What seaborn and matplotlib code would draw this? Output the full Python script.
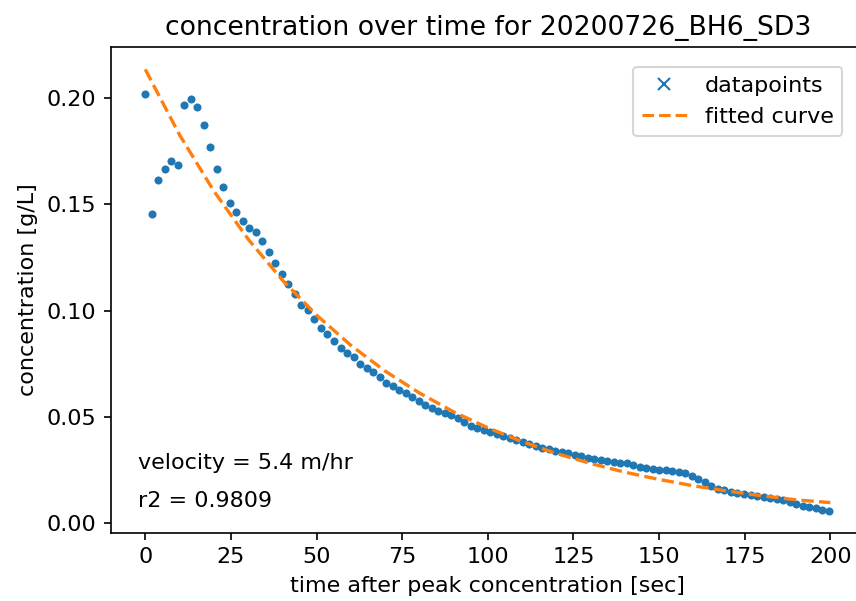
import numpy as np
import pandas as pd
import seaborn as sns
import matplotlib.pyplot as plt
from matplotlib.lines import Line2D

#data
time_sec = [0.0, 1.9, 3.8, 5.7, 7.6, 9.5, 11.4, 13.3, 15.2, 17.1,
            19.0, 20.9, 22.8, 24.7, 26.6, 28.5, 30.4, 32.3, 34.2, 36.1,
            38.0, 39.9, 41.8, 43.7, 45.6, 47.5, 49.4, 51.3, 53.2, 55.1,
            57.0, 58.9, 60.8, 62.7, 64.6, 66.5, 68.4, 70.3, 72.2, 74.1,
            76.0, 77.9, 79.8, 81.7, 83.6, 85.5, 87.4, 89.3, 91.2, 93.1,
            95.0, 96.9, 98.8, 100.7, 102.6, 104.5, 106.4, 108.3, 110.2, 112.1,
            114.0, 115.9, 117.8, 119.7, 121.6, 123.5, 125.4, 127.3, 129.2, 131.1,
            133.0, 134.9, 136.8, 138.7, 140.6, 142.5, 144.4, 146.3, 148.2, 150.1,
            152.0, 153.9, 155.8, 157.7, 159.6, 161.5, 163.4, 165.3, 167.2, 169.1,
            171.0, 172.9, 174.8, 176.7, 178.6, 180.5, 182.4, 184.3, 186.2, 188.1,
            190.0, 191.9, 193.8, 195.7, 197.6, 199.5]

concentration = [0.2021, 0.1453, 0.1613, 0.1665, 0.1703, 0.1684, 0.1969, 0.1994, 0.1958, 0.1875,
                 0.1768, 0.1665, 0.1580, 0.1507, 0.1464, 0.1422, 0.1391, 0.1372, 0.1328, 0.1276,
                 0.1222, 0.1172, 0.1123, 0.1078, 0.1026, 0.1002, 0.0959, 0.0919, 0.0888, 0.0858,
                 0.0822, 0.0802, 0.0780, 0.0749, 0.0731, 0.0710, 0.0689, 0.0658, 0.0645, 0.0626,
                 0.0611, 0.0595, 0.0576, 0.0556, 0.0540, 0.0528, 0.0517, 0.0507, 0.0496, 0.0478,
                 0.0456, 0.0447, 0.0438, 0.0428, 0.0418, 0.0410, 0.0402, 0.0393, 0.0382, 0.0372,
                 0.0364, 0.0356, 0.0347, 0.0341, 0.0335, 0.0329, 0.0322, 0.0316, 0.0309, 0.0302,
                 0.0296, 0.0292, 0.0288, 0.0285, 0.0282, 0.0274, 0.0266, 0.0260, 0.0256, 0.0252,
                 0.0248, 0.0244, 0.0240, 0.0234, 0.0224, 0.0208, 0.0192, 0.0176, 0.0162, 0.0154,
                 0.0148, 0.0143, 0.0138, 0.0133, 0.0128, 0.0123, 0.0118, 0.0113, 0.0108, 0.0100,
                 0.0091, 0.0082, 0.0076, 0.0071, 0.0064, 0.0059]

#fitted curve, read every 10 sec
fit_time = [0, 10, 20, 30, 40, 50, 60, 70, 80, 90, 100,
            110, 120, 130, 140, 150, 160, 170, 180, 190, 200]
fit_conc = [0.2135, 0.1827, 0.1563, 0.1337, 0.1144, 0.0979, 0.0837, 0.0716, 0.0613, 0.0524, 0.0449,
            0.0384, 0.0328, 0.0281, 0.0240, 0.0206, 0.0176, 0.0151, 0.0129, 0.0110, 0.0097]

sample = '20200726_BH6_SD3'
velocity = 5.4
r2 = 0.9809

df = pd.DataFrame({'time': time_sec, 'conc': concentration})
fit = pd.DataFrame({'time': fit_time, 'conc': fit_conc})

#fonts a bit bigger than default to match the upscaled notebook image
plt.rcParams['font.size'] = 10.7
plt.rcParams['axes.titlesize'] = 12.8

fig = plt.figure(figsize=(856 / 150, 601 / 150), dpi=150)
ax = fig.add_axes([0.1297, 0.1136, 0.8803, 0.8077])

sns.scatterplot(x='time', y='conc', data=df, ax=ax, color='#1f77b4', marker='o', s=15, linewidth=0, zorder=2)
sns.lineplot(x='time', y='conc', data=fit, ax=ax, color='#ff7f0e', linestyle='--', linewidth=1.6, zorder=3)

ax.text(-2, 0.0283, 'velocity = %s m/hr' % velocity, va='center')
ax.text(-2, 0.0105, 'r2 = %s' % r2, va='center')

handles = [Line2D([], [], marker='x', color='#1f77b4', linestyle='None', label='datapoints'),
           Line2D([], [], color='#ff7f0e', linestyle='--', label='fitted curve')]
ax.legend(handles=handles, loc='upper right', bbox_to_anchor=(0.9705, 0.9594), borderaxespad=0)

ax.set_title('concentration over time for ' + sample)
ax.set_xlabel('time after peak concentration [sec]')
ax.set_ylabel('concentration [g/L]')
ax.set_xticks([0, 25, 50, 75, 100, 125, 150, 175, 200])
ax.set_yticks([0.00, 0.05, 0.10, 0.15, 0.20])

fig.savefig('out.png', dpi=150)
